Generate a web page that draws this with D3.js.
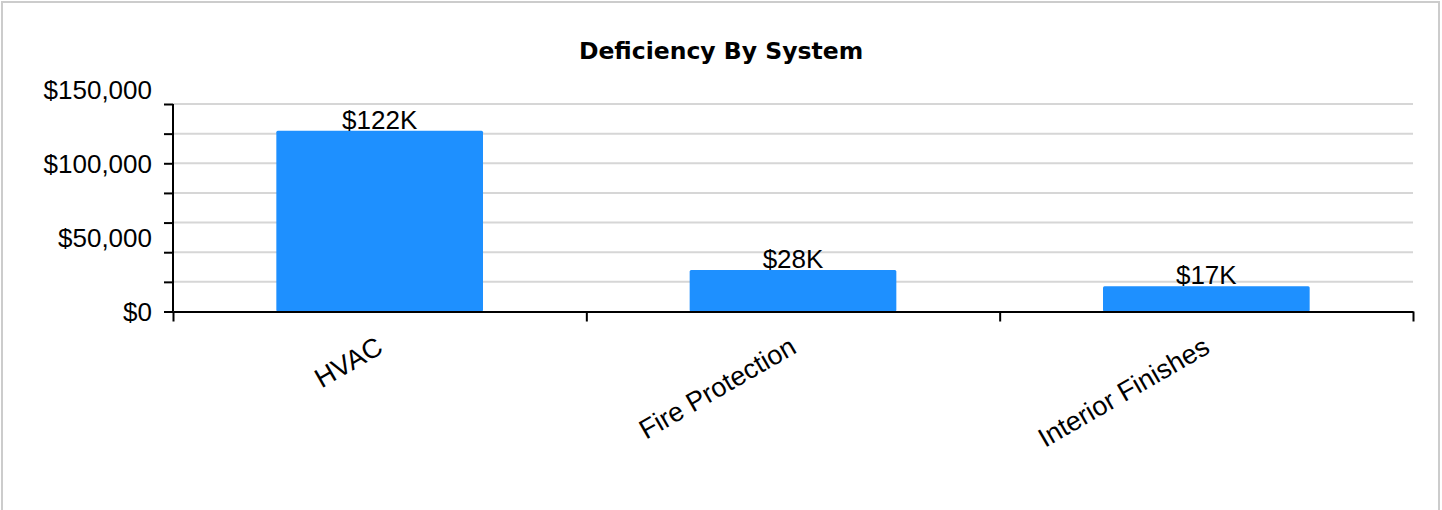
<!DOCTYPE html>
<html>
<head>
<meta charset="utf-8">
<script src="https://cdn.jsdelivr.net/npm/d3@7"></script>
<style>
  html, body { margin: 0; padding: 0; background: #fff; }
  svg { display: block; }
</style>
</head>
<body>
<svg id="chart" width="1442" height="510"></svg>
<script>
const categories = ["HVAC", "Fire Protection", "Interior Finishes"];
const values = [122000, 28000, 17000];
const valueLabels = ["$122K", "$28K", "$17K"];
const gridTicks = [0, 20000, 40000, 60000, 80000, 100000, 120000, 140000];
const yLabelValues = [0, 50000, 100000, 150000];
const yLabelTexts = ["$0", "$50,000", "$100,000", "$150,000"];
const chartTitle = "Deficiency By System";

const W = 1442, H = 510;
const pL = 173, pR = 1413, pT = 104, pB = 311.5;
const svg = d3.select("#chart");

svg.append("rect").attr("x", 2).attr("y", 2).attr("width", 1437).attr("height", 600)
  .attr("fill", "#fff").attr("stroke", "#cccccc").attr("stroke-width", 2);

const x = d3.scaleBand().domain(categories).range([pL, pR]).paddingInner(0.5).paddingOuter(0.25);
const xEdges = d3.scaleLinear().domain([0, categories.length]).range([pL, pR]);
const y = d3.scaleLinear().domain([0, 140000]).range([pB, pT]);

// gridlines
svg.append("g").selectAll("line").data(gridTicks.filter(d => d > 0)).join("line")
  .attr("x1", pL).attr("x2", pR)
  .attr("y1", d => y(d)).attr("y2", d => y(d))
  .attr("stroke", "#d6d6d6").attr("stroke-width", 2);

// bars
svg.append("g").selectAll("rect").data(values).join("rect")
  .attr("x", (d, i) => x(categories[i]))
  .attr("y", d => y(d))
  .attr("width", x.bandwidth())
  .attr("height", d => y(0) - y(d))
  .attr("rx", 1.5)
  .attr("fill", "#1e90ff");

// y axis ticks (every 20k) via d3 axis
const yAxis = svg.append("g").attr("transform", `translate(${pL},0)`)
  .call(d3.axisLeft(y).tickValues(gridTicks).tickSize(9).tickFormat(""));
yAxis.select(".domain").attr("stroke", "#000").attr("stroke-width", 2).attr("d", `M0,${pT}V${pB}`);
yAxis.selectAll(".tick line").attr("stroke", "#000").attr("stroke-width", 2);

// y labels
svg.append("g").selectAll("text").data(yLabelValues).join("text")
  .attr("x", 152).attr("y", d => y(d)).attr("dy", "0.36em")
  .attr("text-anchor", "end")
  .attr("font-family", "Liberation Sans, Arial, sans-serif").attr("font-size", 26)
  .attr("fill", "#000")
  .text((d, i) => yLabelTexts[i]);

// x axis
const xAxis = svg.append("g").attr("transform", `translate(0,${pB})`)
  .call(d3.axisBottom(xEdges).tickValues(d3.range(categories.length + 1)).tickSize(10).tickSizeOuter(0).tickFormat(""));
xAxis.select(".domain").attr("stroke", "#000").attr("stroke-width", 2);
xAxis.selectAll(".tick line").attr("stroke", "#000").attr("stroke-width", 2);

// x labels
svg.append("g").selectAll("text").data(categories).join("text")
  .attr("transform", d => `translate(${x(d) + x.bandwidth() / 2 + 5},${352}) rotate(-30)`)
  .attr("text-anchor", "end")
  .attr("font-family", "Liberation Sans, Arial, sans-serif").attr("font-size", 27)
  .attr("fill", "#000")
  .text(d => d);

// value labels
svg.append("g").selectAll("text").data(values).join("text")
  .attr("x", (d, i) => x(categories[i]) + x.bandwidth() / 2)
  .attr("y", d => y(d) - 2)
  .attr("text-anchor", "middle")
  .attr("font-family", "Liberation Sans, Arial, sans-serif").attr("font-size", 26)
  .attr("fill", "#000")
  .text((d, i) => valueLabels[i]);

// title
svg.append("text").attr("x", W / 2).attr("y", 59)
  .attr("text-anchor", "middle")
  .attr("font-family", "DejaVu Sans, Verdana, sans-serif").attr("font-weight", "bold").attr("font-size", 23.5)
  .attr("fill", "#000")
  .text(chartTitle);
</script>
</body>
</html>
